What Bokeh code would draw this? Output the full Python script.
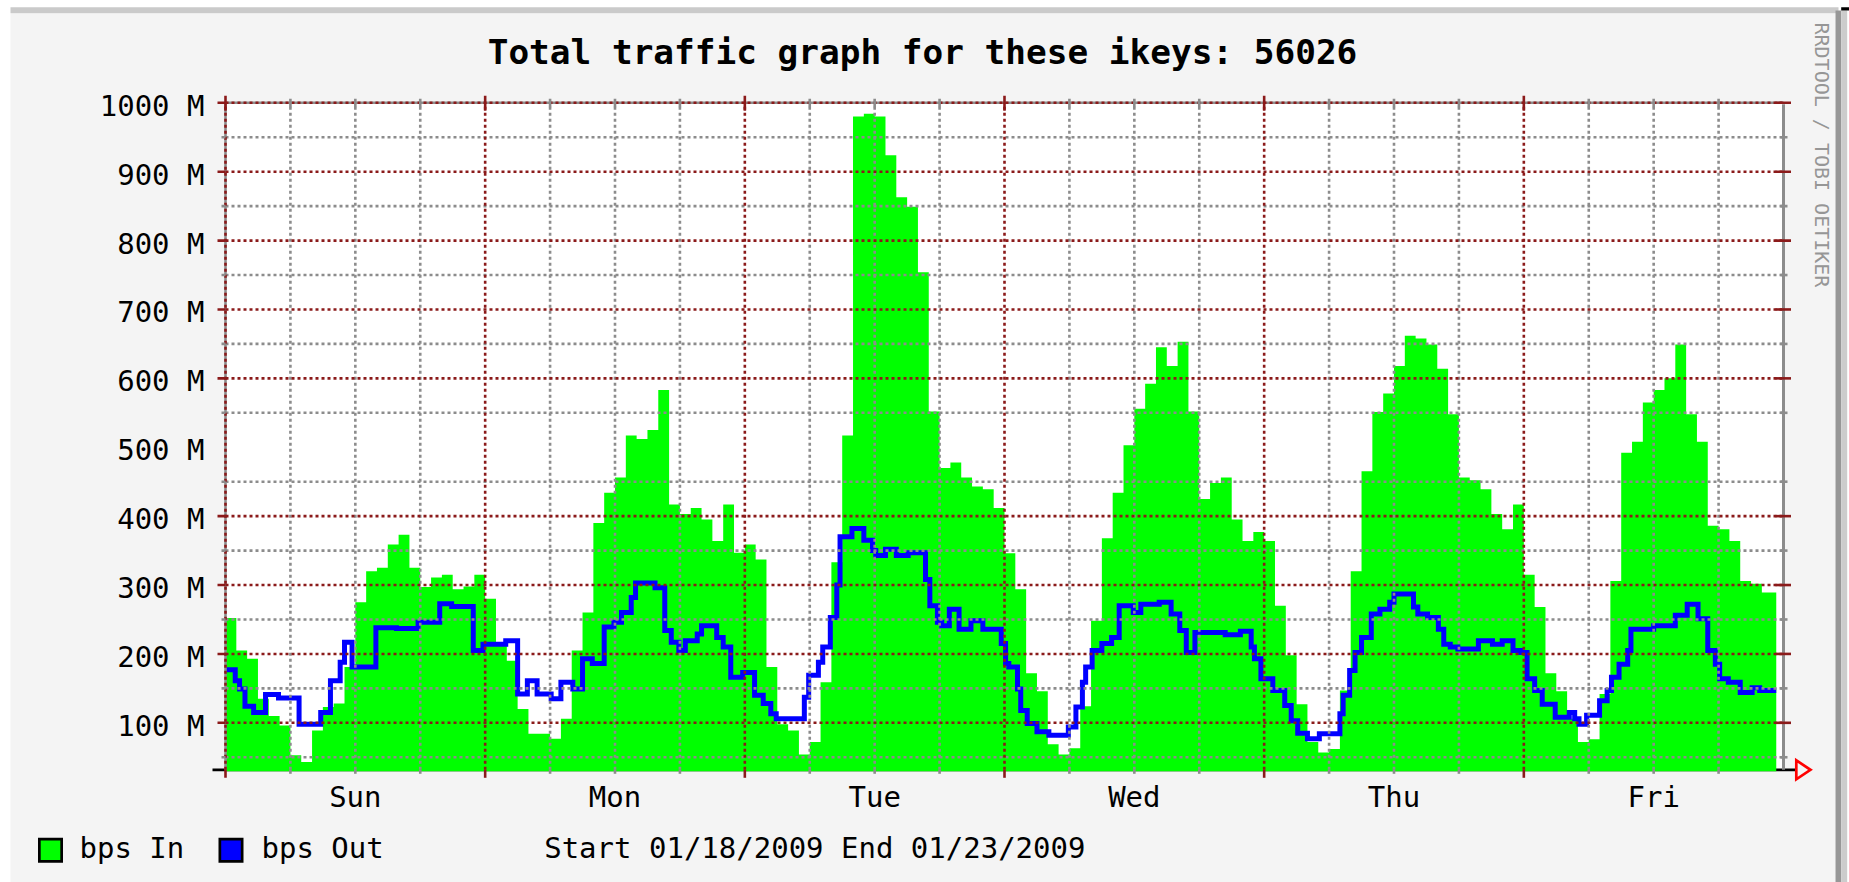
import numpy as np
from bokeh.plotting import figure
from bokeh.models import Range1d
from bokeh.core.properties import value
from bokeh.embed import file_html
from bokeh.resources import INLINE

# ---------------- data ----------------
TITLE = "Total traffic graph for these ikeys: 56026"
DAY_LABELS = ["Sun", "Mon", "Tue", "Wed", "Thu", "Fri"]
DAY_LABEL_HOURS = [12, 36, 60, 84, 108, 132]
Y_TICKS = [100, 200, 300, 400, 500, 600, 700, 800, 900, 1000]
Y_TICK_LABELS = ["100 M", "200 M", "300 M", "400 M", "500 M",
                 "600 M", "700 M", "800 M", "900 M", "1000 M"]
Y_MAJOR_GRID = [100, 200, 300, 400, 600, 700, 800, 900, 1000]
Y_MINOR_GRID = [50, 150, 250, 350, 450, 550, 650, 750, 850, 950]
X_MAJOR_GRID = [0, 24, 48, 72, 96, 120]
X_MINOR_GRID = [6, 12, 18, 30, 36, 42, 54, 60, 66, 78, 84, 90,
                102, 108, 114, 126, 132, 138]
LEGEND_LABELS = ["bps In", "bps Out"]
PERIOD_TEXT = "Start 01/18/2009 End 01/23/2009"
WATERMARK = "RRDTOOL / TOBI OETIKER"

# bps In, hourly averages in M (hour 0 = Sun 00:00)
IN_BPS = [252, 205, 193, 135, 110, 96, 53, 43, 89, 123, 128, 181,
          275, 320, 325, 359, 373, 325, 297, 311, 315, 294, 298, 315,
          280, 215, 190, 120, 84, 84, 77, 106, 205, 260, 390, 434,
          456, 517, 512, 525, 583, 417, 403, 412, 395, 364, 417, 347,
          359, 337, 181, 98, 89, 54, 72, 159, 333, 517, 980, 984,
          980, 924, 863, 849, 754, 552, 470, 478, 456, 443, 439, 412,
          346, 294, 172, 146, 69, 54, 63, 124, 248, 368, 434, 503,
          556, 592, 645, 618, 653, 552, 425, 448, 456, 395, 364, 377,
          364, 270, 198, 127, 72, 57, 62, 147, 320, 465, 551, 578,
          618, 662, 658, 649, 614, 548, 456, 452, 439, 403, 381, 417,
          315, 268, 172, 146, 106, 72, 76, 142, 306, 492, 508, 565,
          583, 600, 649, 548, 508, 386, 381, 364, 306, 302, 289, 289]
DATA_END_H = 143.33

# bps Out, step start times (hours) and values in M
OUT_T = [0.0, 0.9, 1.3, 1.8, 2.6, 3.7, 4.9, 6.8, 8.8, 9.7, 10.6, 11.0,
         11.7, 13.9, 15.8, 17.8, 19.8, 20.9, 22.9, 23.8, 25.9, 27.0, 27.9, 28.8,
         30.1, 31.0, 32.1, 33.0, 33.9, 35.0, 35.9, 36.6, 37.5, 37.9, 39.7, 40.6,
         41.2, 41.9, 42.5, 43.6, 44.0, 45.4, 46.0, 46.7, 47.8, 48.9, 49.7, 50.4,
         50.9, 53.5, 53.9, 54.8, 55.2, 55.9, 56.5, 56.8, 57.9, 59.0, 59.8, 60.1,
         61.0, 62.0, 63.1, 64.7, 65.1, 65.8, 66.2, 66.9, 67.8, 68.9, 70.0, 71.7,
         72.1, 72.4, 73.2, 73.5, 74.1, 75.0, 76.1, 77.9, 78.6, 79.2, 79.5, 80.1,
         81.0, 81.9, 82.6, 83.9, 84.6, 86.3, 87.4, 88.2, 88.8, 89.6, 92.4, 93.8,
         94.8, 95.1, 95.7, 96.8, 97.9, 98.5, 99.1, 100.0, 101.1, 103.0, 103.3, 103.9,
         104.4, 105.0, 105.9, 106.7, 107.6, 108.0, 109.8, 110.2, 111.1, 112.1, 112.6, 113.2,
         113.9, 115.8, 117.1, 118.0, 119.0, 119.7, 120.3, 121.0, 121.7, 122.9, 124.2, 124.7,
         125.1, 125.8, 127.0, 127.7, 128.1, 128.8, 129.6, 129.9, 132.0, 134.0, 135.1, 136.1,
         137.0, 137.7, 138.1, 138.9, 140.0, 141.1, 141.8]
OUT_V = [177, 161, 149, 124, 115, 141, 136, 98, 115, 161, 188, 217,
         181, 238, 237, 246, 273, 269, 205, 214, 219, 142, 161, 142,
         135, 159, 149, 193, 186, 239, 246, 260, 282, 303, 296, 234,
         217, 205, 219, 229, 241, 224, 210, 166, 173, 140, 128, 113,
         106, 137, 169, 188, 210, 253, 300, 370, 382, 365, 350, 343,
         352, 343, 347, 308, 270, 246, 241, 265, 236, 248, 236, 215,
         186, 181, 149, 118, 99, 87, 82, 94, 123, 159, 181, 205,
         215, 224, 270, 260, 272, 275, 258, 234, 202, 231, 228, 233,
         210, 193, 164, 147, 125, 103, 85, 77, 84, 113, 140, 176,
         202, 224, 258, 265, 275, 287, 268, 258, 253, 236, 214, 210,
         207, 219, 214, 219, 205, 202, 164, 147, 127, 108, 115, 106,
         98, 111, 132, 147, 166, 185, 205, 236, 241, 256, 272, 251,
         205, 185, 164, 159, 144, 151, 147]

# ---------------- layout (page pixels; the bokeh page has no body margin) ----
PAGE_X0, PAGE_Y0 = 0, 0
FIG_W, FIG_H = 1849, 882
PLOT_L, PLOT_R = 225.0, 1783.0
PLOT_T, PLOT_B = 102.3, 769.3
T_SPAN = 144.0
V_MIN, V_MAX = 31.8, 1000.0

PX_H = (PLOT_R - PLOT_L) / T_SPAN
PX_M = (PLOT_B - PLOT_T) / (V_MAX - V_MIN)

def dt(px):
    return px / PX_H

def dv(px):
    return px / PX_M

GREEN = "#00FF00"
BLUE = "#0000FF"
GRID_RED = "#8B1A1A"
GRID_GRAY = "#8C8C8C"
CANVAS = "#F4F4F4"
FONT = value("DejaVu Sans Mono")

p = figure(width=FIG_W, height=FIG_H,
           x_range=Range1d(PAGE_X0, PAGE_X0 + FIG_W),
           y_range=Range1d(PAGE_Y0 + FIG_H, PAGE_Y0),
           output_backend="svg", toolbar_location=None, tools="",
           x_axis_location=None, y_axis_location=None,
           min_border=0, outline_line_color=None,
           background_fill_color="white", border_fill_color="white")
p.grid.visible = False

p.extra_x_ranges = {"t": Range1d((PAGE_X0 - PLOT_L) / PX_H,
                                 (PAGE_X0 + FIG_W - PLOT_L) / PX_H)}
p.extra_y_ranges = {"v": Range1d(V_MAX - (PAGE_Y0 + FIG_H - PLOT_T) / PX_M,
                                 V_MAX + (PLOT_T - PAGE_Y0) / PX_M)}
TV = dict(x_range_name="t", y_range_name="v")

# ---------------- frame of the image ----------------
p.quad(left=[10], right=[1835], top=[13], bottom=[FIG_H],
       fill_color=CANVAS, line_color=None)
p.quad(left=[10], right=[1838], top=[6.7], bottom=[12.7],
       fill_color="#CACACA", line_color=None)
p.quad(left=[1835], right=[1840.7], top=[10], bottom=[FIG_H],
       fill_color="#979797", line_color=None)
p.quad(left=[1840.7], right=[1846.7], top=[10], bottom=[FIG_H],
       fill_color="#CCCCCC", line_color=None)
p.quad(left=[1840.7], right=[FIG_W], top=[6.7], bottom=[10],
       fill_color="black", line_color=None)

# white data area
p.quad(left=[0], right=[T_SPAN], bottom=[V_MIN], top=[V_MAX],
       fill_color="white", line_color=None, **TV)

# x axis line (black) under the data
p.segment(x0=[dt(212 - PLOT_L)], x1=[dt(1794.5 - PLOT_L)], y0=[V_MIN], y1=[V_MIN],
          line_color="black", line_width=2.7, **TV)

# ---------------- bps In (area, step) ----------------
vals = np.array(IN_BPS, dtype=float)
edges = np.append(np.arange(len(vals), dtype=float), DATA_END_H)
ax = np.repeat(edges, 2)[1:-1]
ay = np.repeat(vals, 2)
ax = np.concatenate([ax, [edges[-1], edges[0]]])
ay = np.concatenate([ay, [V_MIN - dv(1.5), V_MIN - dv(1.5)]])
p.patch(x=ax, y=ay, fill_color=GREEN, line_color=None, **TV)

# ---------------- bps Out (line, step) ----------------
p.step(x=OUT_T + [DATA_END_H], y=OUT_V + [OUT_V[-1]], mode="after",
       line_color=BLUE, line_width=5, line_join="miter", **TV)

# ---------------- grid ----------------
p.segment(x0=[0], x1=[0], y0=[V_MIN], y1=[V_MAX], line_color=GRID_GRAY,
          line_width=2.6, **TV)
p.segment(x0=[0], x1=[T_SPAN], y0=[V_MAX], y1=[V_MAX], line_color=GRID_GRAY,
          line_width=2.6, **TV)
n = len(Y_MINOR_GRID)
p.segment(x0=[0] * n, x1=[T_SPAN] * n, y0=Y_MINOR_GRID, y1=Y_MINOR_GRID,
          line_color=GRID_GRAY, line_width=2.6, line_dash="3 3", **TV)
n = len(X_MINOR_GRID)
p.segment(x0=X_MINOR_GRID, x1=X_MINOR_GRID, y0=[V_MIN] * n, y1=[V_MAX] * n,
          line_color=GRID_GRAY, line_width=2.6, line_dash="3 3", **TV)
n = len(Y_MAJOR_GRID)
p.segment(x0=[0] * n, x1=[T_SPAN] * n, y0=Y_MAJOR_GRID, y1=Y_MAJOR_GRID,
          line_color=GRID_RED, line_width=2.6, line_dash="3 3", **TV)
n = len(X_MAJOR_GRID)
p.segment(x0=X_MAJOR_GRID, x1=X_MAJOR_GRID, y0=[V_MIN] * n, y1=[V_MAX] * n,
          line_color=GRID_RED, line_width=2.6, line_dash="3 3", **TV)

# right edge (solid gray)
p.segment(x0=[T_SPAN], x1=[T_SPAN], y0=[V_MIN], y1=[V_MAX - dv(1.5)],
          line_color="#8C8C8C", line_width=3, **TV)

# ---------------- ticks ----------------
n = len(Y_MAJOR_GRID)
p.segment(x0=[dt(-8)] * n, x1=[0] * n, y0=Y_MAJOR_GRID, y1=Y_MAJOR_GRID,
          line_color=GRID_RED, line_width=2.6, **TV)
p.segment(x0=[T_SPAN - dt(8)] * n, x1=[T_SPAN + dt(7.5)] * n,
          y0=Y_MAJOR_GRID, y1=Y_MAJOR_GRID, line_color=GRID_RED, line_width=2.6, **TV)
n = len(Y_MINOR_GRID)
p.segment(x0=[dt(-4)] * n, x1=[0] * n, y0=Y_MINOR_GRID, y1=Y_MINOR_GRID,
          line_color=GRID_GRAY, line_width=2.6, **TV)
p.segment(x0=[T_SPAN - dt(3)] * n, x1=[T_SPAN + dt(4)] * n,
          y0=Y_MINOR_GRID, y1=Y_MINOR_GRID, line_color=GRID_GRAY, line_width=2.6, **TV)
n = len(X_MAJOR_GRID)
p.segment(x0=X_MAJOR_GRID, x1=X_MAJOR_GRID, y0=[V_MIN - dv(8)] * n, y1=[V_MIN] * n,
          line_color=GRID_RED, line_width=2.6, **TV)
p.segment(x0=X_MAJOR_GRID, x1=X_MAJOR_GRID, y0=[V_MAX - dv(8)] * n,
          y1=[V_MAX + dv(7)] * n, line_color=GRID_RED, line_width=2.6, **TV)
n = len(X_MINOR_GRID)
p.segment(x0=X_MINOR_GRID, x1=X_MINOR_GRID, y0=[V_MIN - dv(4)] * n, y1=[V_MIN] * n,
          line_color=GRID_GRAY, line_width=2.6, **TV)
p.segment(x0=X_MINOR_GRID, x1=X_MINOR_GRID, y0=[V_MAX - dv(4.5)] * n,
          y1=[V_MAX + dv(4)] * n, line_color=GRID_GRAY, line_width=2.6, **TV)

# red arrow at the end of the x axis
p.patch(x=[1795.8, 1795.8, 1810.0], y=[759.8, 778.8, 769.3],
        fill_alpha=0, line_color="#FF0000", line_width=2.7, line_join="miter")

# ---------------- texts ----------------
p.text(x=[922], y=[51.2], text=[TITLE], text_align="center",
       text_baseline="middle", text_font=FONT, text_font_size="34.4px",
       text_font_style="bold", text_color="black")

p.text(x=[204] * len(Y_TICKS), y=[v - dv(3) for v in Y_TICKS],
       text=Y_TICK_LABELS, text_align="right", text_baseline="middle",
       text_font=FONT, text_font_size="29px", text_color="black",
       y_range_name="v")

p.text(x=DAY_LABEL_HOURS, y=[796.7] * len(DAY_LABELS), text=DAY_LABELS,
       text_align="center", text_baseline="middle", text_font=FONT,
       text_font_size="29px", text_color="black", x_range_name="t")

# legend
p.quad(left=[38.85, 219.35], right=[61.15, 241.65], top=[838.65, 838.65],
       bottom=[860.95, 860.95], fill_color=[GREEN, BLUE], line_color="black",
       line_width=2.7, line_join="miter")
p.text(x=[79, 261, 543.7], y=[847.8, 847.8, 847.8],
       text=LEGEND_LABELS + [PERIOD_TEXT], text_align="left",
       text_baseline="middle", text_font=FONT, text_font_size="29px",
       text_color="black")

# watermark
p.text(x=[1821], y=[22], text=[WATERMARK], angle=-np.pi / 2,
       text_align="left", text_baseline="middle", text_font=FONT,
       text_font_size="20px", text_color="#969696")

open("out.html", "w").write(file_html(p, INLINE))
